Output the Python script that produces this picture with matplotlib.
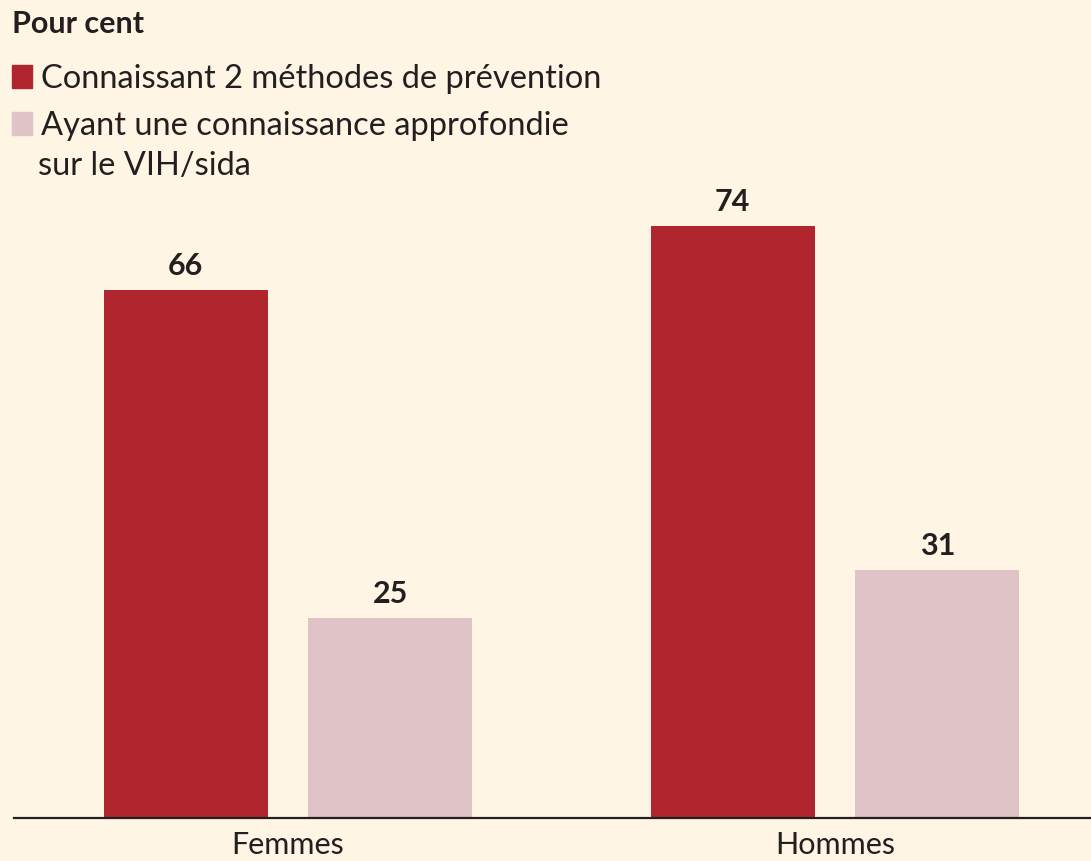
import numpy as np
import matplotlib.pyplot as plt
from matplotlib.patches import Rectangle

# DATA
groups = ["Femmes", "Hommes"]
series_names = ["Connaissant 2 méthodes de prévention",
                "Ayant une connaissance approfondie\nsur le VIH/sida"]
prevention = [66, 74]
approfondie = [25, 31]

# STYLE
bg = "#FEF5E4"
red = "#B1262E"
pink = "#DFC3C6"
ink = "#231F20"
plt.rcParams['font.family'] = ['Lato', 'DejaVu Sans']

fig = plt.figure(figsize=(10.91, 8.61), dpi=100, facecolor=bg)
W, H = 1091, 861
# axes: x from 14px to right edge, y baseline at 818px, top at 186px
ax = fig.add_axes([14 / W, (H - 818) / H, 1 - 14 / W, (818 - 186) / H])
ax.set_facecolor(bg)

x = np.arange(len(groups))
width = 0.30
off = 0.187
b1 = ax.bar(x - off, prevention, width, color=red)
b2 = ax.bar(x + off, approfondie, width, color=pink)

for bars in (b1, b2):
    for rect in bars:
        h = rect.get_height()
        ax.annotate(f"{h:.0f}", (rect.get_x() + rect.get_width() / 2, h),
                    xytext=(0, 7), textcoords="offset points",
                    ha="center", va="bottom", fontsize=22,
                    fontweight="bold", color=ink)

ax.set_xlim(-0.501, 1.468)
ax.set_ylim(0, 79)
ax.set_xticks(x)
ax.set_xticklabels(groups, fontsize=22, color=ink)
ax.tick_params(axis="x", length=0, pad=9)
ax.set_yticks([])
for s in ["top", "right", "left"]:
    ax.spines[s].set_visible(False)
ax.spines["bottom"].set_linewidth(1.6)
ax.spines["bottom"].set_color(ink)

# TITLE AND LEGEND (figure pixel coordinates, top-down)
def fy(py):
    return 1 - py / H

fig.text(12 / W, fy(33), "Pour cent", fontsize=22, fontweight="bold",
         color=ink, va="baseline", ha="left")

fig.patches.append(Rectangle((12 / W, fy(88)), 20 / W, 23 / H,
                             transform=fig.transFigure, color=red))
fig.text(41 / W, fy(88), series_names[0], fontsize=23.5, color=ink,
         va="baseline", ha="left")
fig.patches.append(Rectangle((12 / W, fy(135)), 20 / W, 23 / H,
                             transform=fig.transFigure, color=pink))
fig.text(41 / W, fy(135), series_names[1].split("\n")[0], fontsize=23.5,
         color=ink, va="baseline", ha="left")
fig.text(38 / W, fy(175), series_names[1].split("\n")[1], fontsize=23.5,
         color=ink, va="baseline", ha="left")

fig.savefig("out.png", dpi=100, facecolor=bg)
